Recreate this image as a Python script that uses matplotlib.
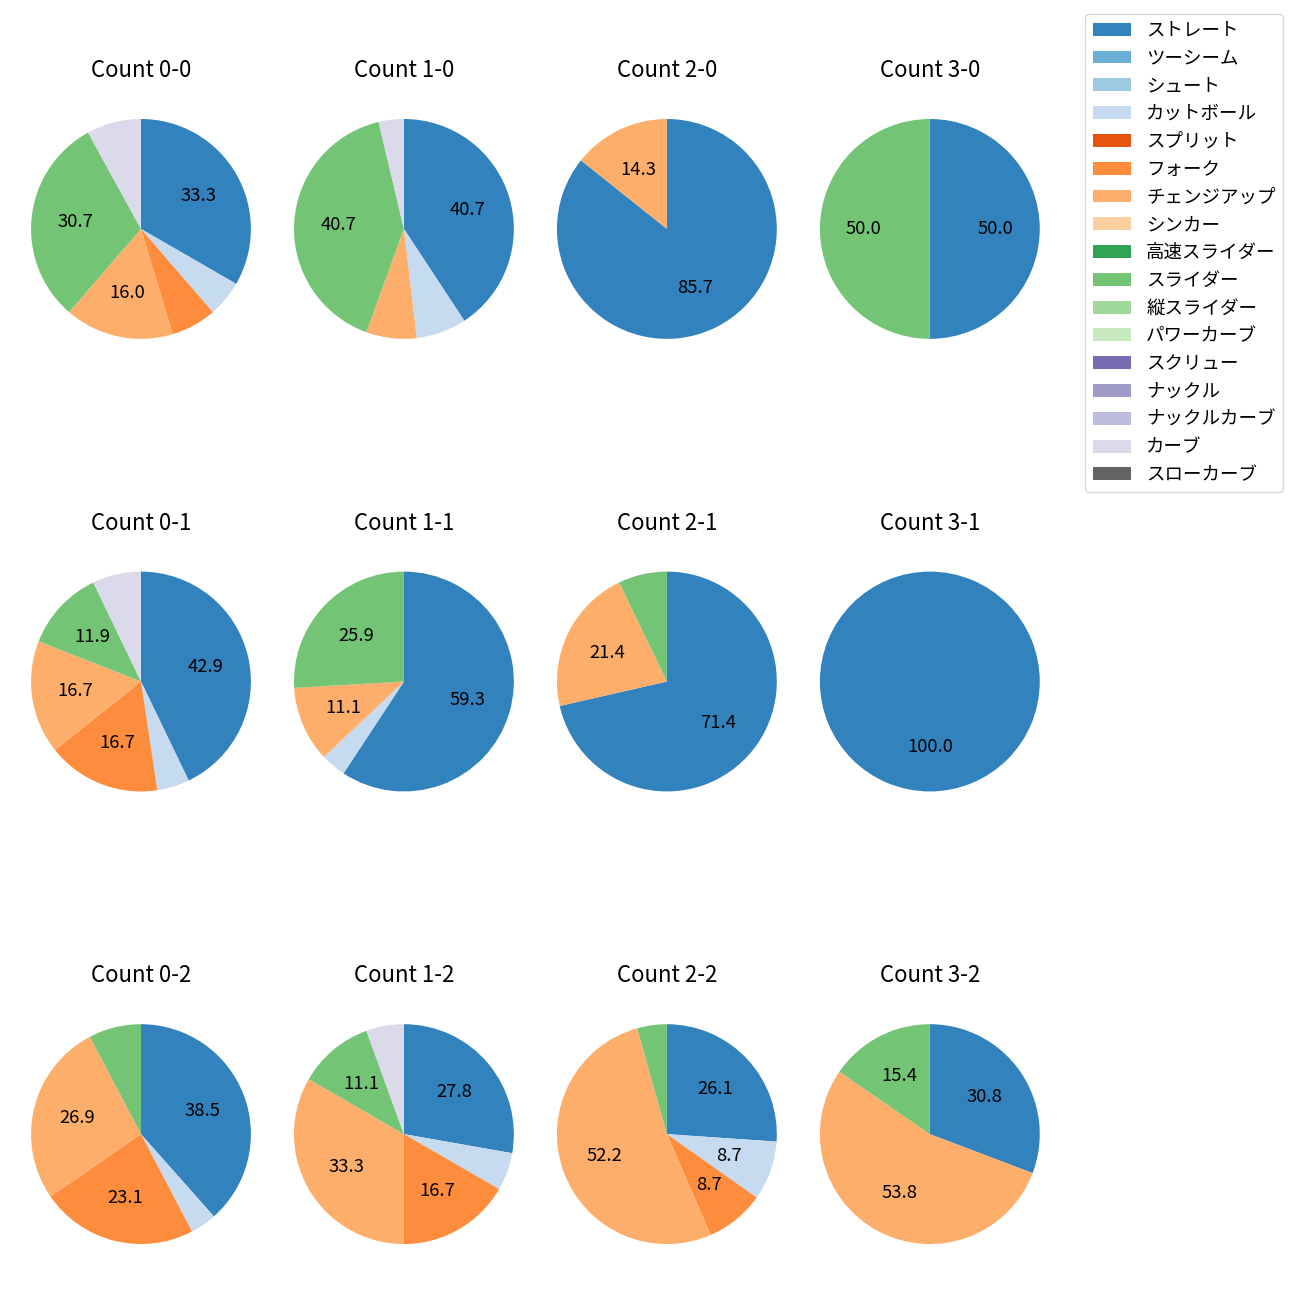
import matplotlib
matplotlib.use('Agg')
import matplotlib.pyplot as plt
from matplotlib.patches import Patch

plt.rcParams['font.family'] = ['Noto Sans CJK JP', 'DejaVu Sans']

pitch_types = ['ストレート', 'ツーシーム', 'シュート', 'カットボール', 'スプリット', 'フォーク',
               'チェンジアップ', 'シンカー', '高速スライダー', 'スライダー', '縦スライダー',
               'パワーカーブ', 'スクリュー', 'ナックル', 'ナックルカーブ', 'カーブ', 'スローカーブ']

# pitch counts per ball-strike count, in pitch_types order
count_labels = ['0-0', '1-0', '2-0', '3-0',
                '0-1', '1-1', '2-1', '3-1',
                '0-2', '1-2', '2-2', '3-2']
c_0_0 = [25, 0, 0, 4, 0, 5, 12, 0, 0, 23, 0, 0, 0, 0, 0, 6, 0]
c_1_0 = [11, 0, 0, 2, 0, 0, 2, 0, 0, 11, 0, 0, 0, 0, 0, 1, 0]
c_2_0 = [6, 0, 0, 0, 0, 0, 1, 0, 0, 0, 0, 0, 0, 0, 0, 0, 0]
c_3_0 = [1, 0, 0, 0, 0, 0, 0, 0, 0, 1, 0, 0, 0, 0, 0, 0, 0]
c_0_1 = [18, 0, 0, 2, 0, 7, 7, 0, 0, 5, 0, 0, 0, 0, 0, 3, 0]
c_1_1 = [16, 0, 0, 1, 0, 0, 3, 0, 0, 7, 0, 0, 0, 0, 0, 0, 0]
c_2_1 = [10, 0, 0, 0, 0, 0, 3, 0, 0, 1, 0, 0, 0, 0, 0, 0, 0]
c_3_1 = [1, 0, 0, 0, 0, 0, 0, 0, 0, 0, 0, 0, 0, 0, 0, 0, 0]
c_0_2 = [10, 0, 0, 1, 0, 6, 7, 0, 0, 2, 0, 0, 0, 0, 0, 0, 0]
c_1_2 = [5, 0, 0, 1, 0, 3, 6, 0, 0, 2, 0, 0, 0, 0, 0, 1, 0]
c_2_2 = [6, 0, 0, 2, 0, 2, 12, 0, 0, 1, 0, 0, 0, 0, 0, 0, 0]
c_3_2 = [4, 0, 0, 0, 0, 0, 7, 0, 0, 2, 0, 0, 0, 0, 0, 0, 0]
count_data = [c_0_0, c_1_0, c_2_0, c_3_0,
              c_0_1, c_1_1, c_2_1, c_3_1,
              c_0_2, c_1_2, c_2_2, c_3_2]

cmap = plt.get_cmap('tab20c')
colors = [cmap(i) for i in range(len(pitch_types))]

fig, axes = plt.subplots(3, 4, figsize=(13, 13), dpi=100)
fig.subplots_adjust(left=0.0027, right=0.821, top=0.9296, bottom=0.0219,
                    wspace=-0.0436, hspace=0.647)

for ax, label, vals in zip(axes.flat, count_labels, count_data):
    sizes = [v for v in vals if v > 0]
    cols = [c for v, c in zip(vals, colors) if v > 0]
    ax.pie(sizes, colors=cols, startangle=90, counterclock=False,
           autopct=lambda p: f'{p:.1f}' if p > 8.5 else '',
           textprops={'fontsize': 13.3})
    ax.set_title(f'Count {label}', fontsize=16, pad=10.5)
    ax.set_aspect('equal')

handles = [Patch(facecolor=c, label=t) for t, c in zip(pitch_types, colors)]
fig.legend(handles=handles, loc='upper right', bbox_to_anchor=(0.987, 0.989),
           borderaxespad=0, fontsize=13.3, handlelength=2.1, labelspacing=0.53)

plt.savefig('out.png', dpi=100)
plt.close(fig)
